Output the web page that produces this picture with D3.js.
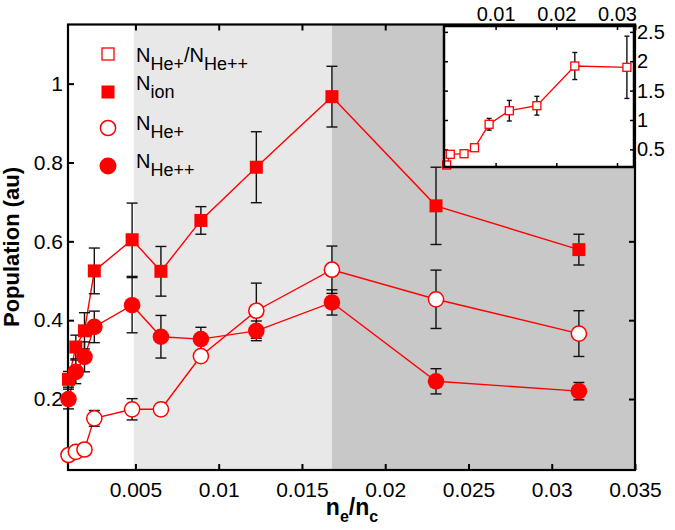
<!DOCTYPE html>
<html><head><meta charset="utf-8">
<script src="https://cdn.jsdelivr.net/npm/d3@7"></script>
<style>body{margin:0;background:#fff}svg{display:block}text{font-family:"Liberation Sans",Arial,sans-serif}</style>
</head><body>
<svg id="c" width="675" height="530"></svg>
<script>
// ---- data ----
const xVals   = [0.00098, 0.00142, 0.00194, 0.00253, 0.0048, 0.00653, 0.00893, 0.01226, 0.0168, 0.02305, 0.03163];
const nIon    = [0.25, 0.332, 0.373, 0.525, 0.604, 0.524, 0.653, 0.788, 0.967, 0.69, 0.579];
const nIonErr = [0.02, 0.03, 0.046, 0.058, 0.093, 0.063, 0.035, 0.09, 0.077, 0.098, 0.039];
const nHe1    = [0.058, 0.066, 0.072, 0.151, 0.174, 0.174, 0.309, 0.424, 0.528, 0.453, 0.366];
const nHe1Err = [0, 0, 0, 0.02, 0.027, 0, 0, 0.07, 0.06, 0.074, 0.058];
const nHe2    = [0.2, 0.269, 0.307, 0.383, 0.438, 0.358, 0.352, 0.373, 0.445, 0.245, 0.22];
const nHe2Err = [0.025, 0.03, 0.038, 0.04, 0.07, 0.054, 0.03, 0.025, 0.032, 0.032, 0.022];
const ratioX   = [0.00194, 0.00253, 0.0048, 0.00653, 0.00893, 0.01226, 0.0168, 0.02305, 0.03163];
const ratio    = [0.234, 0.416, 0.426, 0.528, 0.927, 1.158, 1.243, 1.919, 1.897];
const ratioErr = [0, 0, 0.05, 0, 0.1, 0.175, 0.16, 0.23, 0.53];
const shadeBands = [[0.0049, 0.0168], [0.0168, 0.035]];
const shadeColors = ["#e8e8e8", "#c8c8c8"];
const xTicks = [0.005, 0.01, 0.015, 0.02, 0.025, 0.03, 0.035];
const yTicks = [0.2, 0.4, 0.6, 0.8, 1];
const insetXTicks = [0.01, 0.02, 0.03];
const insetYTicks = [0.5, 1, 1.5, 2, 2.5];

const RED = "#ff0000";
const svg = d3.select("#c");
const L = 68, R = 635, T = 24.5, B = 470;
const x = d3.scaleLinear().domain([0.00095, 0.035]).range([L, R]);
const y = d3.scaleLinear().domain([0.02, 1.15]).range([B, T]);

// shading
svg.selectAll("rect.shade").data(shadeBands).join("rect")
  .attr("x", d => x(d[0])).attr("width", d => x(d[1]) - x(d[0]))
  .attr("y", T).attr("height", B - T).attr("fill", (d, i) => shadeColors[i]);

// axes
const fmt = d => d3.format("~g")(d);
const gx = svg.append("g").attr("transform", `translate(0,${B})`)
  .call(d3.axisBottom(x).tickValues(xTicks).tickFormat(fmt).tickSizeInner(-6).tickSizeOuter(0).tickPadding(12));
const gxt = svg.append("g").attr("transform", `translate(0,${T})`)
  .call(d3.axisTop(x).tickValues(xTicks).tickFormat("").tickSizeInner(-6).tickSizeOuter(0));
const gy = svg.append("g").attr("transform", `translate(${L},0)`)
  .call(d3.axisLeft(y).tickValues(yTicks).tickFormat(fmt).tickSizeInner(-6).tickSizeOuter(0).tickPadding(5));
const gyr = svg.append("g").attr("transform", `translate(${R},0)`)
  .call(d3.axisRight(y).tickValues(yTicks).tickFormat("").tickSizeInner(-6).tickSizeOuter(0));
[gx, gxt, gy, gyr].forEach(g => {
  g.select(".domain").remove();
  g.selectAll(".tick line").attr("stroke", "#000").attr("stroke-width", 2);
  g.selectAll(".tick text").attr("font-size", 21).attr("fill", "#000");
});
svg.append("rect").attr("x", L).attr("y", T).attr("width", R - L).attr("height", B - T)
  .attr("fill", "none").attr("stroke", "#000").attr("stroke-width", 2.2);

// series
function errbars(g, xs, ys, es, xs_, ys_, cap) {
  const idx = d3.range(xs.length).filter(i => es[i] > 0);
  const gg = g.append("g").attr("stroke", "#111").attr("stroke-width", 1.4).attr("fill", "none");
  idx.forEach(i => {
    const cx = xs_(xs[i]), y1 = ys_(ys[i] - es[i]), y2 = ys_(ys[i] + es[i]);
    gg.append("line").attr("x1", cx).attr("x2", cx).attr("y1", y1).attr("y2", y2);
    gg.append("line").attr("x1", cx - cap).attr("x2", cx + cap).attr("y1", y1).attr("y2", y1);
    gg.append("line").attr("x1", cx - cap).attr("x2", cx + cap).attr("y1", y2).attr("y2", y2);
  });
}
const line = (xs_, ys_) => d3.line().x(d => xs_(d[0])).y(d => ys_(d[1]));
const series = [
  {v: nHe2, e: nHe2Err, m: "fcircle"},
  {v: nHe1, e: nHe1Err, m: "ocircle"},
  {v: nIon, e: nIonErr, m: "fsquare"}
];
const main = svg.append("g");
series.forEach(s => {
  main.append("path").datum(xVals.map((xv, i) => [xv, s.v[i]]))
    .attr("d", line(x, y)).attr("fill", "none").attr("stroke", RED).attr("stroke-width", 1.4);
});
series.forEach(s => errbars(main, xVals, s.v, s.e, x, y, 5.5));
function marker(g, type, cx, cy, sz) {
  if (type === "fcircle") g.append("circle").attr("cx", cx).attr("cy", cy).attr("r", sz).attr("fill", RED);
  else if (type === "ocircle") g.append("circle").attr("cx", cx).attr("cy", cy).attr("r", sz - 0.7).attr("fill", "#fff").attr("stroke", RED).attr("stroke-width", 1.5);
  else if (type === "fsquare") g.append("rect").attr("x", cx - sz).attr("y", cy - sz).attr("width", 2 * sz).attr("height", 2 * sz).attr("fill", RED);
  else if (type === "osquare") g.append("rect").attr("x", cx - sz).attr("y", cy - sz).attr("width", 2 * sz).attr("height", 2 * sz).attr("fill", "#fff").attr("stroke", RED).attr("stroke-width", 1.3);
}
series.forEach(s => {
  xVals.forEach((xv, i) => marker(main, s.m, x(xv), y(s.v[i]), s.m === "fsquare" ? 6.5 : 8.3));
});

// legend
const leg = svg.append("g");
const legItems = [
  {m: "osquare", sz: 6, my: 54, ty: 62, parts: [["N", 0], ["He+", 1], ["/N", 0], ["He++", 1]]},
  {m: "fsquare", sz: 6.5, my: 92, ty: 90, parts: [["N", 0], ["ion", 1]]},
  {m: "ocircle", sz: 8.3, my: 128, ty: 130, parts: [["N", 0], ["He+", 1]]},
  {m: "fcircle", sz: 8.5, my: 166, ty: 168, parts: [["N", 0], ["He++", 1]]}
];
legItems.forEach(it => {
  marker(leg, it.m, 108, it.my, it.sz);
  const t = leg.append("text").attr("x", 136).attr("y", it.ty).attr("font-size", 20).attr("fill", "#000");
  let prevSub = 0;
  it.parts.forEach(p => {
    const ts = t.append("tspan").text(p[0]);
    const dy = (p[1] ? 8 : 0) - prevSub;
    if (dy) ts.attr("dy", dy);
    if (p[1]) ts.attr("font-size", 18);
    prevSub = p[1] ? 8 : 0;
  });
});

// axis titles
const yt = svg.append("text").attr("transform", `translate(19,247) rotate(-90)`)
  .attr("text-anchor", "middle").attr("font-weight", "bold").attr("font-size", 22).attr("fill", "#000")
  .text("Population (au)");
const xt = svg.append("text").attr("x", 352).attr("y", 515).attr("text-anchor", "middle")
  .attr("font-weight", "bold").attr("font-size", 23).attr("fill", "#000");
xt.append("tspan").text("n");
xt.append("tspan").text("e").attr("font-size", 16).attr("dy", 7);
xt.append("tspan").text("/n").attr("dy", -7);
xt.append("tspan").text("c").attr("font-size", 16).attr("dy", 7);

// inset
const iL = 444, iR = 634, iT = 26, iB = 167;
const ix = d3.scaleLinear().domain([0.0015, 0.0328]).range([iL, iR]);
const iy = d3.scaleLinear().domain([0.2, 2.6]).range([iB, iT]);
const ins = svg.append("g");
ins.append("rect").attr("x", iL).attr("y", iT).attr("width", iR - iL).attr("height", iB - iT).attr("fill", "#fff");
const ia = [
  ins.append("g").attr("transform", `translate(0,${iT})`).call(d3.axisTop(ix).tickValues(insetXTicks).tickFormat(fmt).tickSizeInner(-4).tickSizeOuter(0).tickPadding(5)),
  ins.append("g").attr("transform", `translate(0,${iB})`).call(d3.axisBottom(ix).tickValues(insetXTicks).tickFormat("").tickSizeInner(-4).tickSizeOuter(0)),
  ins.append("g").attr("transform", `translate(${iR},0)`).call(d3.axisRight(iy).tickValues(insetYTicks).tickFormat(fmt).tickSizeInner(-4).tickSizeOuter(0).tickPadding(3)),
  ins.append("g").attr("transform", `translate(${iL},0)`).call(d3.axisLeft(iy).tickValues(insetYTicks).tickFormat("").tickSizeInner(-4).tickSizeOuter(0))
];
ia.forEach(g => {
  g.select(".domain").remove();
  g.selectAll(".tick line").attr("stroke", "#000").attr("stroke-width", 1.5);
  g.selectAll(".tick text").attr("font-size", 20).attr("fill", "#000");
});
ins.append("path").datum(ratioX.map((xv, i) => [xv, ratio[i]]))
  .attr("d", line(ix, iy)).attr("fill", "none").attr("stroke", RED).attr("stroke-width", 1.3);
errbars(ins, ratioX, ratio, ratioErr, ix, iy, 2.5);
ratioX.forEach((xv, i) => marker(ins, "osquare", ix(xv), iy(ratio[i]), 4));
ins.append("rect").attr("x", iL).attr("y", iT).attr("width", iR - iL).attr("height", iB - iT)
  .attr("fill", "none").attr("stroke", "#000").attr("stroke-width", 2.5);
</script>
</body></html>
